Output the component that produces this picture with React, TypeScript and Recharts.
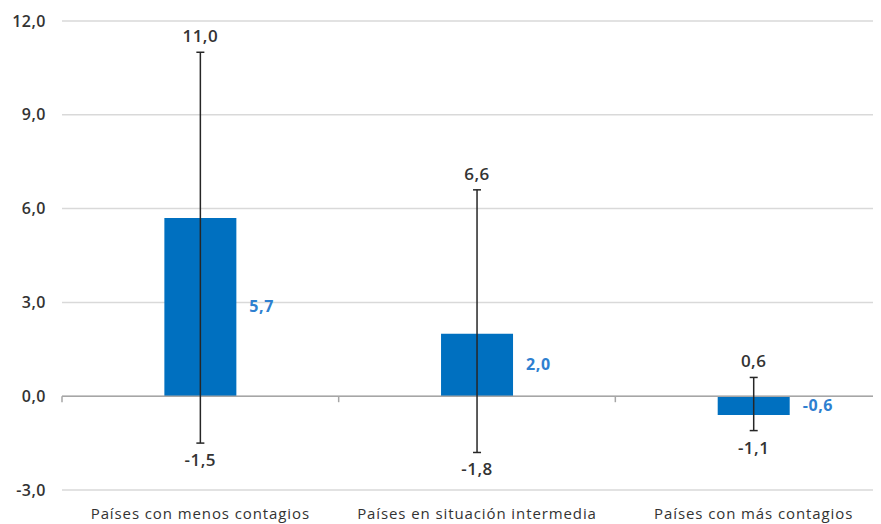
import React from "react";
import {
  ComposedChart,
  Bar,
  Line,
  XAxis,
  YAxis,
  CartesianGrid,
  ErrorBar,
  LabelList,
  ReferenceLine,
} from "recharts";

const categories = [
  "Países con menos contagios",
  "Países en situación intermedia",
  "Países con más contagios",
];
const values = [5.7, 2.0, -0.6];
const highs = [11.0, 6.6, 0.6];
const lows = [-1.5, -1.8, -1.1];
const yTicks = [-3, 0, 3, 6, 9, 12];

const data = categories.map((name, i) => ({
  name,
  value: values[i],
  high: highs[i],
  low: lows[i],
  err: [values[i] - lows[i], highs[i] - values[i]],
}));

const fmt = (v: number) => v.toFixed(1).replace(".", ",");
const FONT = "Open Sans, DejaVu Sans, sans-serif";
const DARK = "#333333";

const ZeroAxis = (props: any) => {
  const { x1, x2, y1 } = props;
  const n = categories.length;
  const step = (x2 - x1) / n;
  return (
    <g>
      <line x1={x1} x2={x2} y1={y1} y2={y1} stroke="#a6a6a6" strokeWidth={1.5} />
      {Array.from({ length: n + 1 }, (_, i) => (
        <line
          key={i}
          x1={x1 + i * step}
          x2={x1 + i * step}
          y1={y1}
          y2={y1 + 6}
          stroke="#a6a6a6"
          strokeWidth={1.5}
        />
      ))}
    </g>
  );
};

const ValueLabel = (props: any) => {
  const { x, y, width, height, value } = props;
  return (
    <text
      x={x + width + 13}
      y={y + height / 2}
      dy={5}
      fill="#2e80d0"
      fontSize={16}
      fontWeight={700}
      letterSpacing={0.6}
      fontFamily={FONT}
    >
      {fmt(value)}
    </text>
  );
};

const HighLabel = (props: any) => {
  const { x, y, value } = props;
  return (
    <text
      x={x}
      y={y - 10}
      textAnchor="middle"
      fill={DARK}
      fontSize={17}
      fontWeight={600}
      letterSpacing={0.5}
      fontFamily={FONT}
    >
      {fmt(value)}
    </text>
  );
};

const LowLabel = (props: any) => {
  const { x, y, value } = props;
  return (
    <text
      x={x}
      y={y + 23}
      textAnchor="middle"
      fill={DARK}
      fontSize={17}
      fontWeight={600}
      letterSpacing={0.5}
      fontFamily={FONT}
    >
      {fmt(value)}
    </text>
  );
};

export default function App() {
  return (
    <div style={{ width: 873, height: 516, overflow: "hidden" }}>
      <ComposedChart
        width={884}
        height={516}
        data={data}
        margin={{ top: 13, right: 0, bottom: 0, left: 0 }}
        barCategoryGap="37%"
      >
        <CartesianGrid vertical={false} stroke="#d9d9d9" strokeWidth={1.5} />
        <XAxis
          dataKey="name"
          axisLine={false}
          tickLine={false}
          height={34}
          tick={{
            fill: DARK,
            fontSize: 15,
            fontFamily: FONT,
            letterSpacing: 0.9,
            dy: 10,
          }}
          interval={0}
        />
        <YAxis
          domain={[-3, 12]}
          ticks={yTicks}
          axisLine={false}
          tickLine={false}
          tickSize={0}
          tickMargin={16}
          width={54}
          tickFormatter={fmt}
          tick={{
            fill: DARK,
            fontSize: 16,
            fontWeight: 600,
            letterSpacing: 0.5,
            fontFamily: FONT,
          }}
        />
        <ReferenceLine y={0} shape={ZeroAxis} />
        <Bar dataKey="value" fill="#0070c0" isAnimationActive={false}>
          <ErrorBar dataKey="err" width={4} stroke="#262626" strokeWidth={1.5} />
          <LabelList dataKey="value" content={ValueLabel} />
        </Bar>
        <Line
          dataKey="high"
          stroke="none"
          dot={false}
          activeDot={false}
          isAnimationActive={false}
        >
          <LabelList dataKey="high" content={HighLabel} />
        </Line>
        <Line
          dataKey="low"
          stroke="none"
          dot={false}
          activeDot={false}
          isAnimationActive={false}
        >
          <LabelList dataKey="low" content={LowLabel} />
        </Line>
      </ComposedChart>
    </div>
  );
}
